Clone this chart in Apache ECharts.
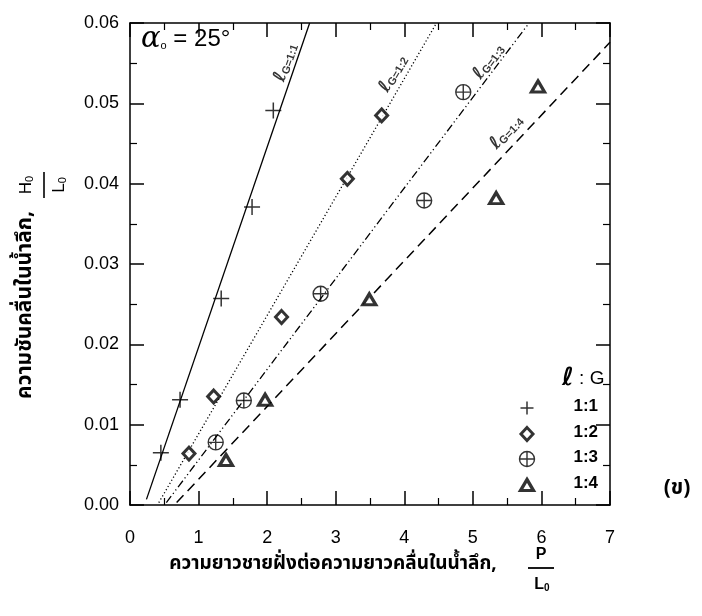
<!DOCTYPE html>
<html>
<head>
<meta charset="utf-8">
<script src="https://cdn.jsdelivr.net/npm/echarts@6/dist/echarts.min.js"></script>
<style>
  html, body { margin: 0; padding: 0; background: #fff; }
  #chart { width: 702px; height: 616px; }
</style>
</head>
<body>
<div id="chart"></div>
<script>
// Relative beach length P/L0 versus deep-water wave steepness H0/L0, alpha0 = 25 deg
const groups = ['1:1', '1:2', '1:3', '1:4'];

// measured points, one pair of arrays per l:G ratio
const pl_11 = [0.45, 0.73, 1.33, 1.78, 2.09];
const hl_11 = [0.0065, 0.0131, 0.0257, 0.0371, 0.0491];
const pl_12 = [0.86, 1.22, 2.21, 3.17, 3.67];
const hl_12 = [0.0064, 0.0135, 0.0234, 0.0406, 0.0485];
const pl_13 = [1.25, 1.66, 2.78, 4.29, 4.86];
const hl_13 = [0.0078, 0.0130, 0.0263, 0.0379, 0.0514];
const pl_14 = [1.40, 1.97, 3.49, 5.34, 5.95];
const hl_14 = [0.0056, 0.0131, 0.0256, 0.0382, 0.0521];

// fitted straight lines (end points)
const fitX_11 = [0.24, 2.62];
const fitY_11 = [0.0007, 0.0600];
const fitX_12 = [0.42, 4.47];
const fitY_12 = [0.0003, 0.0600];
const fitX_13 = [0.53, 5.82];
const fitY_13 = [0.0003, 0.0600];
const fitX_14 = [0.68, 7.00];
const fitY_14 = [0.0003, 0.0576];

// axis ticks
const xTicks = [0, 1, 2, 3, 4, 5, 6, 7];
const yTicks = ['0.00', '0.01', '0.02', '0.03', '0.04', '0.05', '0.06'];

// line tag anchors [x, y, angle]
const tagPos = [[2.27, 0.0551, 71], [3.84, 0.0537, 60], [5.23, 0.0552, 53], [5.49, 0.0464, 47]];

// legend key rows (pixel rows of the key block)
const legendY = [408, 434, 459, 485];

const pairs = (xs, ys) => xs.map((x, i) => [x, ys[i]]);
const numFont = "'Liberation Sans', Arial, sans-serif";
const thaiFont = "'Noto Sans Thai', 'Noto Sans Thai UI', Loma, Garuda, 'Tlwg Typo', 'DejaVu Sans', sans-serif";
const scriptFont = "'DejaVu Sans', sans-serif";

const plusPath = 'path://M10,0L10,20M0,10L20,10';
const oplusPath = 'path://M0,10A10,10 0 1,1 20,10A10,10 0 1,1 0,10ZM0,10L20,10M10,0L10,20';

const markerDefs = [
  { symbol: plusPath, size: 16, key: 13, style: { color: 'transparent', borderColor: '#000', borderWidth: 1.5 } },
  { symbol: 'diamond', size: [12, 13], key: [12, 13], style: { color: '#fff', borderColor: '#000', borderWidth: 3 } },
  { symbol: oplusPath, size: 15, key: 15, style: { color: 'transparent', borderColor: '#000', borderWidth: 1.4 } },
  { symbol: 'triangle', size: [13, 11], key: [13, 11], style: { color: '#fff', borderColor: '#000', borderWidth: 3.2 } }
];
const lineTypes = ['solid', [1.2, 2.4], [8, 3, 1.2, 3, 1.2, 3], [10, 6]];
const lineWidths = [1.3, 1.3, 1.3, 1.5];

const ptsX = [pl_11, pl_12, pl_13, pl_14];
const ptsY = [hl_11, hl_12, hl_13, hl_14];
const fitsX = [fitX_11, fitX_12, fitX_13, fitX_14];
const fitsY = [fitY_11, fitY_12, fitY_13, fitY_14];

const series = [];
groups.forEach((g, i) => {
  series.push({
    type: 'line', name: 'fit ' + g, data: pairs(fitsX[i], fitsY[i]),
    showSymbol: false, silent: true, z: 2,
    lineStyle: { color: '#000', width: lineWidths[i], type: lineTypes[i] }
  });
});
groups.forEach((g, i) => {
  const m = markerDefs[i];
  series.push({
    type: 'scatter', name: g, data: pairs(ptsX[i], ptsY[i]),
    symbol: m.symbol, symbolSize: m.size, itemStyle: m.style, z: 5
  });
});
// rotated tags beside each fitted line
series.push({
  type: 'scatter', name: 'tags', symbolSize: 0, z: 6, silent: true,
  data: tagPos.map((p, i) => ({
    value: [p[0], p[1]],
    label: {
      show: true, position: 'inside', rotate: p[2],
      formatter: '{l|ℓ}{s|G=' + groups[i] + '}',
      rich: {
        l: { fontSize: 18, fontStyle: 'italic', fontWeight: 'bold', fontFamily: scriptFont, color: '#000' },
        s: { fontSize: 11, fontWeight: 'bold', fontFamily: numFont, color: '#000', padding: [7, 0, 0, 0] }
      }
    }
  }))
});
// key markers, drawn on a pixel-row grid next to the key labels
groups.forEach((g, i) => {
  const m = markerDefs[i];
  series.push({
    type: 'scatter', name: 'key ' + g, xAxisIndex: 2, yAxisIndex: 2, silent: true, z: 10,
    data: [[0, legendY[i]]], symbol: m.symbol, symbolSize: m.key, itemStyle: m.style
  });
});

const axisCommon = {
  type: 'value',
  axisLine: { show: true, onZero: false, lineStyle: { color: '#000', width: 1.5 } },
  axisTick: { show: true, inside: true, length: 14, lineStyle: { color: '#000', width: 1.5 } },
  minorTick: { show: true, splitNumber: 2, length: 7, lineStyle: { color: '#000', width: 1.2 } },
  splitLine: { show: false }
};

const subRich = (size, bold) => ({
  b: { fontSize: size, fontWeight: bold ? 'bold' : 'normal', fontFamily: numFont, color: '#000' },
  s: { fontSize: Math.round(size * 0.65), fontWeight: bold ? 'bold' : 'normal', fontFamily: numFont, color: '#000', padding: [7, 0, 0, 0] }
});

const graphics = [
  // alpha0 = 25 deg
  { type: 'text', left: 141, top: 25, z: 10,
    style: { text: '{a|α}{s|o}{t| = 25°}', rich: {
      a: { fontSize: 29, fontFamily: "'DejaVu Serif', serif", fontStyle: 'italic', color: '#000' },
      s: { fontSize: 11, fontFamily: numFont, color: '#000', padding: [13, 0, 0, 0] },
      t: { fontSize: 24, fontFamily: numFont, color: '#000' }
    } } },
  // key heading
  { type: 'text', left: 562, top: 366, z: 10,
    style: { text: '{l|ℓ}{t| : G}', rich: {
      l: { fontSize: 25, fontStyle: 'italic', fontWeight: 'bold', fontFamily: scriptFont, color: '#000' },
      t: { fontSize: 19, fontFamily: numFont, color: '#000' }
    } } },
  // y-axis title
  { type: 'text', x: 27, y: 305, rotation: Math.PI / 2, z: 10,
    style: { text: 'ความชันคลื่นในน้ำลึก,', font: 'bold 21px ' + thaiFont, fill: '#000',
      align: 'center', verticalAlign: 'middle' } },
  { type: 'text', x: 26, y: 185, rotation: Math.PI / 2, z: 10,
    style: { text: '{b|H}{s|0}', align: 'center', verticalAlign: 'middle', rich: subRich(17, false) } },
  { type: 'line', shape: { x1: 44, y1: 172, x2: 44, y2: 198 }, style: { stroke: '#000', lineWidth: 1.6 } },
  { type: 'text', x: 59, y: 185, rotation: Math.PI / 2, z: 10,
    style: { text: '{b|L}{s|0}', align: 'center', verticalAlign: 'middle', rich: subRich(17, false) } },
  // x-axis title
  { type: 'text', x: 333, y: 565, z: 10,
    style: { text: 'ความยาวชายฝั่งต่อความยาวคลื่นในน้ำลึก,', font: 'bold 19px ' + thaiFont, fill: '#000',
      align: 'center', verticalAlign: 'middle' } },
  { type: 'text', x: 541, y: 555, z: 10,
    style: { text: 'P', font: 'bold 16px ' + numFont, fill: '#000', align: 'center', verticalAlign: 'middle' } },
  { type: 'line', shape: { x1: 528, y1: 568, x2: 554, y2: 568 }, style: { stroke: '#000', lineWidth: 1.8 } },
  { type: 'text', x: 542, y: 585, z: 10,
    style: { text: '{b|L}{s|0}', align: 'center', verticalAlign: 'middle', rich: subRich(16, true) } },
  // panel tag
  { type: 'text', x: 677, y: 490, z: 10,
    style: { text: '(ข)', font: 'bold 21px ' + thaiFont, fill: '#000', align: 'center', verticalAlign: 'middle' } }
].concat(groups.map((g, i) => ({
  type: 'text', right: 104, top: legendY[i] - 10, z: 10,
  style: { text: g, font: 'bold 17px ' + numFont, fill: '#000' }
})));

const option = {
  animation: false,
  backgroundColor: '#fff',
  grid: [
    { left: 130, top: 23, width: 480, height: 482 },
    { left: 527, top: 0, width: 1, height: 616 }
  ],
  xAxis: [
    Object.assign({}, axisCommon, {
      min: 0, max: 7, interval: 1, position: 'bottom',
      axisLabel: { color: '#000', fontSize: 18, fontFamily: numFont, margin: 24,
        formatter: v => String(xTicks[Math.round(v)]) }
    }),
    Object.assign({}, axisCommon, {
      min: 0, max: 7, interval: 1, position: 'top', axisLabel: { show: false }
    }),
    { type: 'value', gridIndex: 1, min: 0, max: 1, show: false }
  ],
  yAxis: [
    Object.assign({}, axisCommon, {
      min: 0, max: 0.06, interval: 0.01, position: 'left',
      axisLabel: { color: '#000', fontSize: 18, fontFamily: numFont, margin: 11,
        formatter: v => yTicks[Math.round(v * 100)] }
    }),
    Object.assign({}, axisCommon, {
      min: 0, max: 0.06, interval: 0.01, position: 'right', axisLabel: { show: false }
    }),
    { type: 'value', gridIndex: 1, min: 0, max: 616, inverse: true, show: false }
  ],
  series: series,
  graphic: graphics
};

const chart = echarts.init(document.getElementById('chart'), null, { renderer: 'canvas' });
chart.setOption(option);
</script>
</body>
</html>
